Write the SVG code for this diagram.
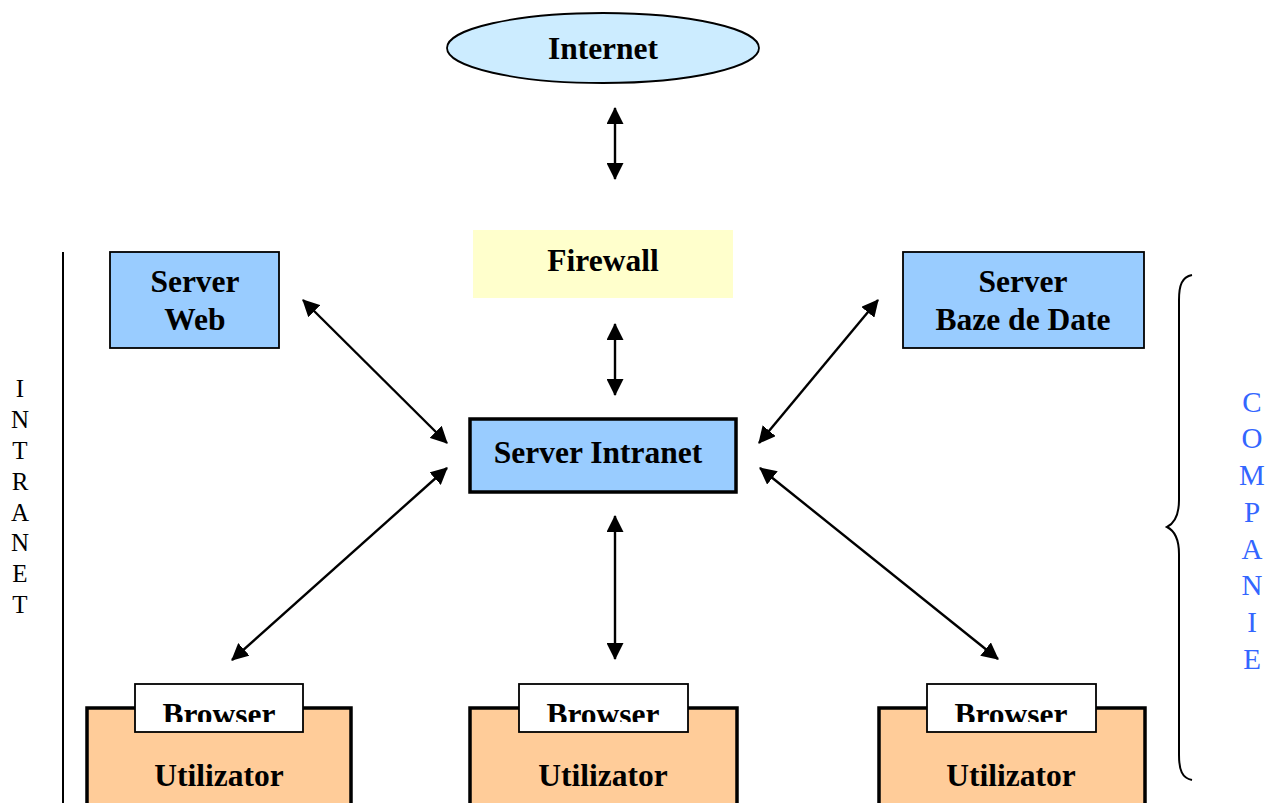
<svg xmlns="http://www.w3.org/2000/svg" width="1266" height="803" viewBox="0 0 1266 803">
<style>
.lbl{font-family:"Liberation Serif","Times New Roman",serif;font-weight:bold;font-size:31.5px;fill:#000;text-anchor:middle}
.side{font-family:"Liberation Serif","Times New Roman",serif;text-anchor:middle}
.srv{fill:#99CCFF;stroke:#000;stroke-width:1.8}
.srv-main{fill:#99CCFF;stroke:#000;stroke-width:3.5}
.brw{fill:#FFFFFF;stroke:#000;stroke-width:1.8}
.usr{fill:#FFCC99;stroke:#000;stroke-width:3.5}
.con{stroke:#000;stroke-width:2.4;fill:none;marker-start:url(#ah);marker-end:url(#ah)}
</style>
<defs>
<marker id="ah" viewBox="0 0 16 16" refX="15" refY="8" markerWidth="17" markerHeight="17" markerUnits="userSpaceOnUse" orient="auto-start-reverse">
<path d="M0,0 L16,8 L0,16 z" fill="#000"/>
</marker>
<clipPath id="c1"><rect x="135" y="684" width="168" height="38"/></clipPath>
<clipPath id="c2"><rect x="519" y="684" width="169" height="38"/></clipPath>
<clipPath id="c3"><rect x="927" y="684" width="169" height="38"/></clipPath>
</defs>
<rect width="1266" height="803" fill="#fff"/>

<g id="intranet-label">
<line x1="63" y1="252" x2="63" y2="803" stroke="#000" stroke-width="2"/>
<g class="side" font-size="25" fill="#000">
<text x="20" y="397">I</text>
<text x="20" y="428">N</text>
<text x="20" y="459">T</text>
<text x="20" y="490">R</text>
<text x="20" y="521">A</text>
<text x="20" y="551">N</text>
<text x="20" y="582">E</text>
<text x="20" y="613">T</text>
</g>
</g>

<g id="companie-label">
<path d="M1192,275 C1182,277 1179,285 1179,300 L1179,500 C1179,515 1175,523 1167,527 C1175,531 1179,539 1179,554 L1179,755 C1179,770 1182,778 1192,780" fill="none" stroke="#000" stroke-width="2"/>
<g class="side" font-size="29" fill="#3366FF">
<text x="1252" y="412">C</text>
<text x="1252" y="448">O</text>
<text x="1252" y="485">M</text>
<text x="1252" y="522">P</text>
<text x="1252" y="559">A</text>
<text x="1252" y="595">N</text>
<text x="1252" y="632">I</text>
<text x="1252" y="669">E</text>
</g>
</g>

<g id="internet">
<ellipse cx="603" cy="48" rx="156" ry="35" fill="#CCECFF" stroke="#000" stroke-width="1.8"/>
<text class="lbl" x="603" y="59">Internet</text>
</g>

<g id="firewall">
<rect x="473" y="230" width="260" height="68" fill="#FFFFCC"/>
<text class="lbl" x="603" y="271">Firewall</text>
</g>

<g id="server-web">
<rect class="srv" x="110" y="252" width="169" height="96"/>
<text class="lbl" x="195" y="292">Server</text>
<text class="lbl" x="195" y="330">Web</text>
</g>

<g id="server-baze-de-date">
<rect class="srv" x="903" y="252" width="241" height="96"/>
<text class="lbl" x="1023" y="292">Server</text>
<text class="lbl" x="1023" y="330">Baze de Date</text>
</g>

<g id="server-intranet">
<rect class="srv-main" x="470" y="419" width="266" height="73"/>
<text class="lbl" x="598" y="463">Server Intranet</text>
</g>

<g id="utilizator-1">
<rect class="usr" x="87" y="708" width="264" height="110"/>
<rect class="brw" x="135" y="684" width="168" height="48"/>
<text class="lbl" x="219" y="725" clip-path="url(#c1)">Browser</text>
<text class="lbl" x="219" y="786">Utilizator</text>
</g>

<g id="utilizator-2">
<rect class="usr" x="470" y="708" width="267" height="110"/>
<rect class="brw" x="519" y="684" width="169" height="48"/>
<text class="lbl" x="603" y="725" clip-path="url(#c2)">Browser</text>
<text class="lbl" x="603" y="786">Utilizator</text>
</g>

<g id="utilizator-3">
<rect class="usr" x="879" y="708" width="266" height="110"/>
<rect class="brw" x="927" y="684" width="169" height="48"/>
<text class="lbl" x="1011" y="725" clip-path="url(#c3)">Browser</text>
<text class="lbl" x="1011" y="786">Utilizator</text>
</g>

<g id="connectors">
<line class="con" x1="615" y1="108" x2="615" y2="179"/>
<line class="con" x1="615" y1="324" x2="615" y2="395"/>
<line class="con" x1="303" y1="300" x2="447" y2="443"/>
<line class="con" x1="878" y1="300" x2="759" y2="443"/>
<line class="con" x1="447" y1="468" x2="232" y2="660"/>
<line class="con" x1="760" y1="468" x2="998" y2="659"/>
<line class="con" x1="615" y1="516" x2="615" y2="659"/>
</g>
</svg>
